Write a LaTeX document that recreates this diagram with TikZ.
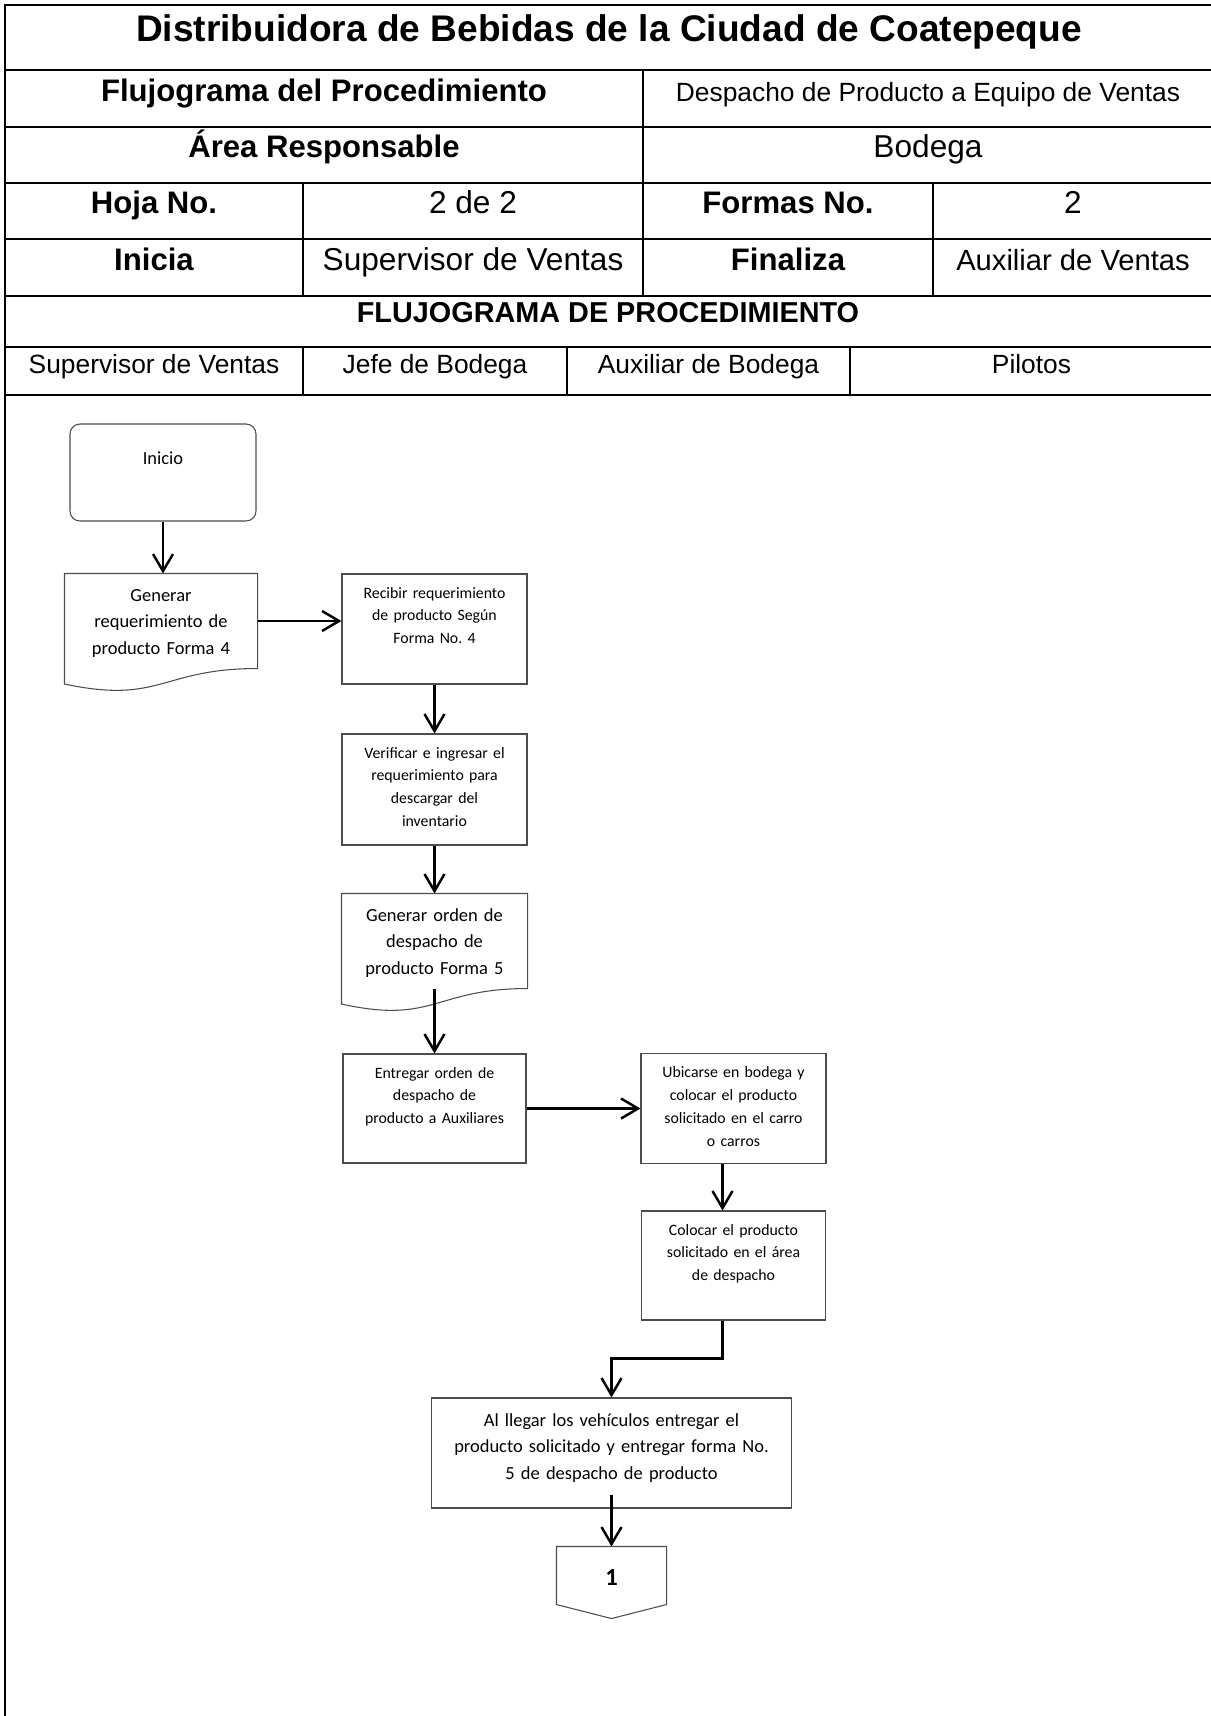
\documentclass[tikz,border=0pt]{standalone}
\usepackage{fontspec}
\setmainfont{Liberation Sans}
\newfontfamily\flowfont{Carlito}
\usetikzlibrary{arrows.meta}
\frenchspacing

\begin{document}
\begin{tikzpicture}[
		tabline/.style={line width=1.1pt},
		celltext/.style={anchor=base, inner sep=0pt},
		bigbold/.style={celltext, font=\bfseries\fontsize{17.7}{20}\selectfont},
		bigreg/.style={celltext, font=\fontsize{18}{20}\selectfont},
		midreg/.style={celltext, font=\fontsize{15}{18}\selectfont},
		procbox/.style={rectangle, draw=black!70, line width=0.6pt, inner sep=0pt,
			align=center, text width=3.70cm, text height=0.48cm,
			font=\flowfont\fontsize{9}{13}\selectfont},
		docbox/.style={procbox, draw=none, text height=0.54cm, text depth=1.34cm,
			font=\flowfont\fontsize{10.5}{15.2}\selectfont},
		docline/.style={draw=black!70, line width=0.6pt},
		flow/.style={->, line width=1.4pt},
		>={Straight Barb[length=0.34cm, width=0.40cm]}
		]
		\useasboundingbox (0,0) rectangle (24.22,-34.32);

		% encabezado
		\draw[tabline] (0.10,-34.40) -- (0.10,-0.10) -- (24.26,-0.10) -- (24.26,-34.40);
		\draw[tabline] (0.10,-1.40) -- (24.26,-1.40);
		\draw[tabline] (0.10,-2.54) -- (24.26,-2.54);
		\draw[tabline] (0.10,-3.66) -- (24.26,-3.66);
		\draw[tabline] (0.10,-4.78) -- (24.26,-4.78);
		\draw[tabline] (0.10,-5.92) -- (24.26,-5.92);
		\draw[tabline] (0.10,-6.94) -- (24.26,-6.94);
		\draw[tabline] (0.10,-7.90) -- (24.26,-7.90);
		\draw[tabline] (12.86,-1.40) -- (12.86,-5.92);
		\draw[tabline] (6.06,-3.66) -- (6.06,-5.92);
		\draw[tabline] (18.66,-3.66) -- (18.66,-5.92);
		\draw[tabline] (6.06,-6.94) -- (6.06,-7.90);
		\draw[tabline] (11.34,-6.94) -- (11.34,-7.90);
		\draw[tabline] (17.00,-6.94) -- (17.00,-7.90);

		\node[celltext, font=\bfseries\fontsize{21.1}{24}\selectfont] (tit) at (12.18,-0.84) {Distribuidora de Bebidas de la Ciudad de Coatepeque};
		\node[bigbold] (flu) at (6.48,-2.02) {Flujograma del Procedimiento};
		\node[midreg] (des) at (18.56,-2.02) {Despacho de Producto a Equipo de Ventas};
		\node[bigbold] (are) at (6.48,-3.14) {Área Responsable};
		\node[bigreg] (bod) at (18.56,-3.14) {Bodega};
		\node[bigbold] (hoj) at (3.08,-4.26) {Hoja No.};
		\node[bigreg] (hojn) at (9.46,-4.26) {2 de 2};
		\node[bigbold] (for) at (15.76,-4.26) {Formas No.};
		\node[bigreg] (forn) at (21.46,-4.26) {2};
		\node[bigbold] (ini) at (3.08,-5.40) {Inicia};
		\node[bigreg] (inin) at (9.46,-5.40) {Supervisor de Ventas};
		\node[bigbold] (fin) at (15.76,-5.40) {Finaliza};
		\node[celltext, font=\fontsize{16.6}{20}\selectfont] (finn) at (21.46,-5.40) {Auxiliar de Ventas};
		\node[celltext, font=\bfseries\fontsize{16.4}{20}\selectfont] (fgp) at (12.16,-6.44) {FLUJOGRAMA DE PROCEDIMIENTO};
		\node[midreg] (sup) at (3.08,-7.46) {Supervisor de Ventas};
		\node[midreg] (jef) at (8.70,-7.46) {Jefe de Bodega};
		\node[midreg] (aux) at (14.17,-7.46) {Auxiliar de Bodega};
		\node[midreg] (pil) at (20.63,-7.46) {Pilotos};

		% flujograma
		\node[procbox, rounded corners=0.2cm, text width=3.72cm, text height=0.80cm, text depth=1.14cm,
			font=\flowfont\fontsize{10.5}{15.2}\selectfont] (inicio) at (3.26,-9.45) {Inicio};
		\node[docbox, below of = inicio, yshift = -1.97cm, xshift = -0.04cm, text width=3.84cm](genreq){Generar\\requerimiento de\\producto Forma 4};
		\draw[docline] (genreq.north west) -- (genreq.north east) -- (genreq.south east)
			.. controls (genreq.south) and ([yshift=-0.72cm]genreq.south) .. ([yshift=-0.31cm]genreq.south west) -- cycle;
		\node[procbox, right of = genreq, xshift = 4.47cm, yshift = -0.16cm, text depth=1.72cm](recibir){Recibir requerimiento\\de producto Según\\Forma No. 4};
		\node[procbox, below of = recibir, yshift = -2.21cm, text depth=1.74cm](verificar){Verificar e ingresar el\\requerimiento para\\descargar del\\inventario};
		\node[docbox, below of = verificar, yshift = -2.03cm, text width=3.70cm](genorden){Generar orden de\\despacho de\\producto Forma 5};
		\draw[docline] (genorden.north west) -- (genorden.north east) -- (genorden.south east)
			.. controls (genorden.south) and ([yshift=-0.72cm]genorden.south) .. ([yshift=-0.31cm]genorden.south west) -- cycle;
		\node[procbox, below of = genorden, yshift = -2.35cm, text width=3.66cm, text depth=1.70cm](entregar){Entregar orden de\\despacho de\\producto a Auxiliares};
		\node[procbox, right of = entregar, xshift = 4.98cm, text depth=1.72cm](ubicarse){Ubicarse en bodega y\\colocar el producto\\solicitado en el carro\\o carros};
		\node[procbox, below of = ubicarse, yshift = -2.14cm, text width=3.68cm, text depth=1.70cm](colocar){Colocar el producto\\solicitado en el área\\de despacho};
		\node[procbox, below of = colocar, yshift = -2.75cm, xshift = -2.44cm, text width=7.20cm,
			text height=0.56cm, text depth=1.64cm, font=\flowfont\fontsize{10.5}{15.2}\selectfont](llegar){Al llegar los vehículos entregar el\\producto solicitado y entregar forma No.\\5 de despacho de producto};
		\node[docbox, below of = llegar, yshift = -1.45cm, text width=2.18cm, text height=0.76cm, text depth=0.38cm,
			font=\flowfont\bfseries\fontsize{14}{16}\selectfont](conector){1};
		\draw[docline] (conector.north west) -- (conector.north east) -- (conector.south east)
			-- ([yshift=-0.28cm]conector.south) -- (conector.south west) -- cycle;

		\draw[flow] (inicio.south) -- (inicio.south |- genreq.north);
		\draw[flow] (genreq.east) -- (genreq.east -| recibir.west);
		\draw[flow] (recibir.south) -- (verificar.north);
		\draw[flow] (verificar.south) -- (genorden.north);
		\draw[flow] (genorden.south) -- (entregar.north);
		\draw[flow] (entregar.east) -- (entregar.east -| ubicarse.west);
		\draw[flow] ([xshift=-0.22cm]ubicarse.south) -- ([xshift=-0.22cm]colocar.north);
		\draw[flow] ([xshift=-0.22cm]colocar.south) -- ++(0,-0.76) -| (llegar.north);
		\draw[flow] ([yshift=0.28cm]llegar.south) -- (conector.north);
	\end{tikzpicture}
\end{document}
